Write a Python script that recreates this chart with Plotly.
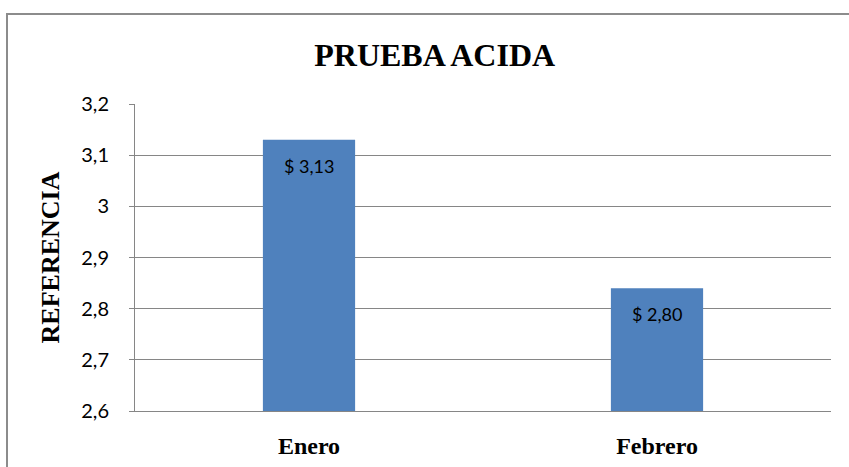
import plotly.graph_objects as go

categories = ["Enero", "Febrero"]
values = [3.13, 2.84]
value_labels = ["$ 3,13", "$ 2,80"]
y_ticks = [2.6, 2.7, 2.8, 2.9, 3.0, 3.1, 3.2]

BAR = "#4F81BD"
GRID = "#868686"
SERIF = "Liberation Serif"
SANS = "Lato"

fig = go.Figure()
fig.add_trace(go.Bar(
    x=categories, y=values, marker=dict(color=BAR, line=dict(width=0)),
    width=0.265, hoverinfo="skip", showlegend=False,
))
for c, v, t in zip(categories, values, value_labels):
    fig.add_annotation(x=c, y=v, text=t, showarrow=False, yshift=-26,
                       font=dict(family=SANS, size=18, color="#000"))

# outer chart border
fig.add_shape(type="rect", xref="paper", yref="paper",
              x0=-0.1839, x1=1.0417, y0=-0.2248, y1=1.2932,
              line=dict(color="#8c8c8c", width=2), layer="below")

fig.update_layout(
    width=849, height=467,
    margin=dict(l=135, r=18, t=104, b=56),
    paper_bgcolor="white", plot_bgcolor="white",
    separators=",.",
    title=dict(text="<b>PRUEBA ACIDA</b>", x=0.512, xanchor="center",
               y=1 - 55 / 467, yanchor="middle", yref="container",
               font=dict(family=SERIF, size=32, color="#000")),
    xaxis=dict(showgrid=False, showline=True, linecolor=GRID, linewidth=1,
               ticks="", ticklabelstandoff=13, automargin=False,
               tickfont=dict(family=SERIF, size=24, color="#000"),
               tickprefix="<b>", ticksuffix="</b>"),
    yaxis=dict(range=[2.6, 3.2], tickvals=y_ticks, showgrid=True,
               gridcolor=GRID, gridwidth=1, showline=True, linecolor=GRID,
               linewidth=1, ticks="outside", ticklen=5, tickcolor=GRID,
               ticklabelstandoff=16, automargin=False,
               tickfont=dict(family=SANS, size=20, color="#000"),
               title=dict(text="<b>REFERENCIA</b>", standoff=14,
                          font=dict(family=SERIF, size=26, color="#000")),
               zeroline=False),
)

fig.write_html("out.html", config={"displayModeBar": False},
               post_script="document.body.style.margin='0';")
